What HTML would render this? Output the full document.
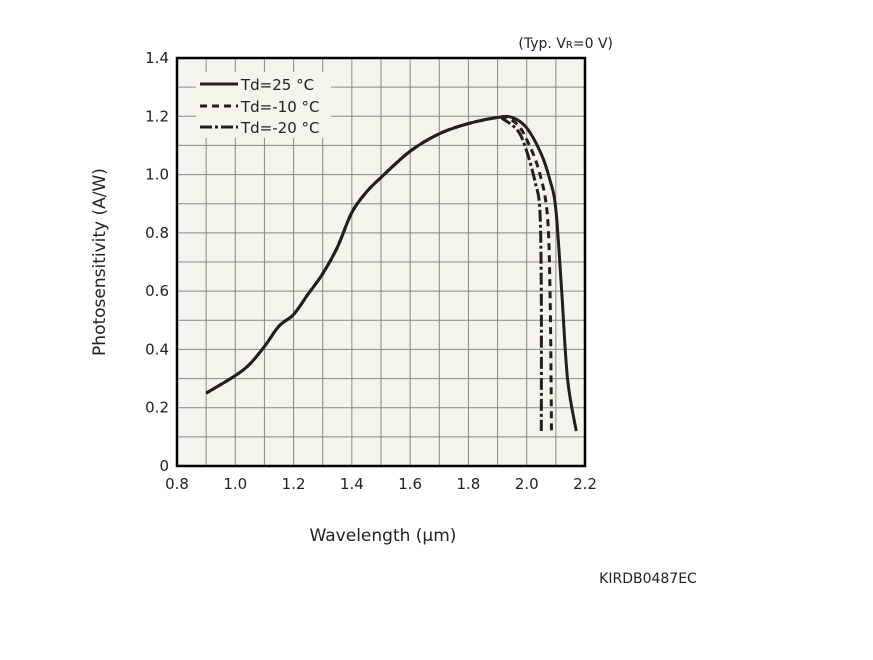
<!DOCTYPE html>
<html><head><meta charset="utf-8"><style>
body{margin:0;background:#fff;}
svg{display:block;font-family:"DejaVu Sans","Liberation Sans",sans-serif;}
</style></head><body>
<svg id="chart" width="873" height="660" viewBox="0 0 873 660">
<rect x="177" y="58" width="408" height="408" fill="#f4f3ec"/>
<g id="grid"></g>
<g id="ticks"></g>
<g id="series"></g>
<rect x="177" y="58" width="408" height="408" fill="none" stroke="#000" stroke-width="2.5"/>
<text x="613" y="48" font-size="14" text-anchor="end" fill="#222">(Typ. V<tspan font-size="10">R</tspan>=0 V)</text>
<text x="383" y="541" font-size="17" text-anchor="middle" fill="#222">Wavelength (μm)</text>
<text transform="translate(105,262) rotate(-90)" font-size="17" text-anchor="middle" fill="#222">Photosensitivity (A/W)</text>
<text x="648" y="583" font-size="14" text-anchor="middle" fill="#222">KIRDB0487EC</text>
<g>
<rect x="196" y="72" width="135" height="66" fill="#f4f3ec"/>
<g><line x1="200" y1="84" x2="238" y2="84" stroke="#231f20" stroke-width="3"/><text x="241" y="90" font-size="15" fill="#222">Td=25 °C</text></g>
<g><line x1="200" y1="106" x2="238" y2="106" stroke="#231f20" stroke-width="3" stroke-dasharray="7,5"/><text x="241" y="112" font-size="15" fill="#222">Td=-10 °C</text></g>
<g><line x1="200" y1="127" x2="238" y2="127" stroke="#231f20" stroke-width="3" stroke-dasharray="12,3,3,3"/><text x="241" y="133" font-size="15" fill="#222">Td=-20 °C</text></g>
</g>
</svg>
<script>
const xTicks=[0.8,1.0,1.2,1.4,1.6,1.8,2.0,2.2];
const yTicks=[0,0.2,0.4,0.6,0.8,1.0,1.2,1.4];
const yTickLabels=["0","0.2","0.4","0.6","0.8","1.0","1.2","1.4"];
const common=[[0.9,0.25],[1.0,0.31],[1.05,0.35],[1.1,0.41],[1.15,0.48],[1.2,0.52],[1.25,0.59],[1.3,0.66],[1.35,0.75],[1.4,0.87],[1.45,0.94],[1.5,0.99],[1.6,1.08],[1.7,1.14],[1.8,1.175],[1.9,1.196]];
const tail25=[[1.95,1.196],[2.0,1.16],[2.05,1.07],[2.08,0.98],[2.1,0.88],[2.12,0.6],[2.14,0.3],[2.17,0.12]];
const tailM10=[[1.93,1.196],[1.97,1.17],[2.0,1.12],[2.04,1.02],[2.07,0.87],[2.08,0.6],[2.085,0.12]];
const tailM20=[[1.92,1.19],[1.97,1.15],[2.0,1.08],[2.03,0.97],[2.045,0.88],[2.05,0.6],[2.05,0.12]];
const X=v=>177+(v-0.8)/1.4*408, Y=v=>466-v/1.4*408;
const NS="http://www.w3.org/2000/svg";
const grid=document.getElementById('grid'),ticks=document.getElementById('ticks'),ser=document.getElementById('series');
for(let i=1;i<14;i++){
 let gx=document.createElementNS(NS,'line');
 
 
 gx.setAttribute('x1',X(0.8+i*0.1));gx.setAttribute('x2',X(0.8+i*0.1));gx.setAttribute('y1',58);gx.setAttribute('y2',466);
 gx.setAttribute('stroke','#8a8a84');gx.setAttribute('stroke-width','1');grid.appendChild(gx);
 let gy=document.createElementNS(NS,'line');
 
 
 gy.setAttribute('y1',Y(i*0.1));gy.setAttribute('y2',Y(i*0.1));gy.setAttribute('x1',177);gy.setAttribute('x2',585);
 gy.setAttribute('stroke','#8a8a84');gy.setAttribute('stroke-width','1');grid.appendChild(gy);
}
xTicks.forEach(v=>{
 let t=document.createElementNS(NS,'text');
 
 
 t.setAttribute('x',X(v));t.setAttribute('y',489);t.setAttribute('font-size','15');t.setAttribute('text-anchor','middle');t.setAttribute('fill','#222');
 t.textContent=v.toFixed(1);ticks.appendChild(t);
});
yTicks.forEach((v,i)=>{
 let t=document.createElementNS(NS,'text');
 
 
 t.setAttribute('x',169);t.setAttribute('y',Y(v)+5);t.setAttribute('font-size','15');t.setAttribute('text-anchor','end');t.setAttribute('fill','#222');
 t.textContent=yTickLabels[i];ticks.appendChild(t);
});
function path(pts){
 const p=pts.map(d=>[X(d[0]),Y(d[1])]);
 let s='M'+p[0][0]+','+p[0][1];
 for(let i=0;i<p.length-1;i++){
  const p0=p[i-1]||p[i],p1=p[i],p2=p[i+1],p3=p[i+2]||p2;
  s+=' C'+(p1[0]+(p2[0]-p0[0])/6)+','+(p1[1]+(p2[1]-p0[1])/6)+' '+(p2[0]-(p3[0]-p1[0])/6)+','+(p2[1]-(p3[1]-p1[1])/6)+' '+p2[0]+','+p2[1];
 }
 return s;
}
function draw(tail,dash,name){
 let e=document.createElementNS(NS,'path');
 
 
 e.setAttribute('d',path(common.concat(tail)));
 e.setAttribute('fill','none');e.setAttribute('stroke','#231f20');e.setAttribute('stroke-width','3');
 if(dash)e.setAttribute('stroke-dasharray',dash);
 ser.appendChild(e);
}
draw(tailM20,null,'series-td-minus20c-base');
draw(tailM10,null,'series-td-minus10c-base');
ser.innerHTML='';
draw(tail25,null,'series-td-25c');
draw(tailM10,'7,5','series-td-minus10c');
draw(tailM20,'12,3,3,3','series-td-minus20c');
</script>
</body></html>
